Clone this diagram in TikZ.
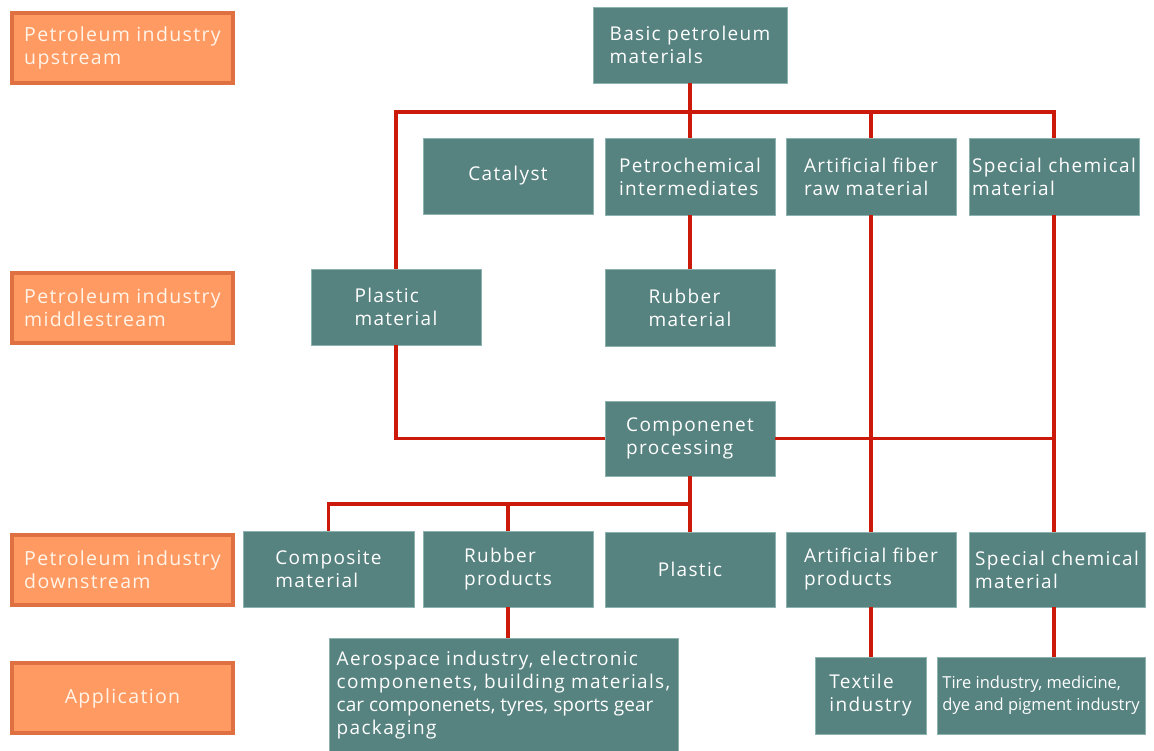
\documentclass[tikz,border=0pt]{standalone}
\usepackage{fontspec}
\setmainfont[LetterSpace=7]{Open Sans}
\newfontfamily\plainfont{Open Sans}
\usetikzlibrary{positioning}
\definecolor{stagefill}{HTML}{FF9A63}
\definecolor{stageedge}{HTML}{DF7042}
\definecolor{stagetext}{HTML}{FFF4E8}
\definecolor{itemfill}{HTML}{568280}
\definecolor{itemedge}{HTML}{8DB3B0}
\definecolor{linkred}{HTML}{CC1A0A}
\tikzset{
  stage/.style={draw=stageedge,line width=4pt,fill=stagefill,text=stagetext,minimum width=221pt,minimum height=70pt,align=left,inner sep=0pt,font=\fontsize{19.5}{23}\selectfont},
  item/.style={draw=itemedge,line width=.8pt,fill=itemfill,text=white,minimum width=170pt,minimum height=76pt,align=left,inner sep=0pt,font=\fontsize{19}{23}\selectfont},
  small/.style={item,font=\plainfont\fontsize{16.5}{22}\selectfont},
  link/.style={draw=linkred,line width=3.2pt},
}
\begin{document}
\begin{tikzpicture}[x=1pt,y=-1pt]
  \useasboundingbox (0,0) rectangle (1154,751);
  % stages of the industry
  \node[stage] (up) at (122.5,48) {Petroleum industry\\upstream};
  \node[stage] (mid) at (122.5,308) {Petroleum industry\\middlestream};
  \node[stage] (down) at (122.5,570) {Petroleum industry\\downstream};
  \node[stage] (app) at (122.5,698) {Application};
  % upstream and middlestream
  \node[item,minimum width=194pt] (basic) at (690,45) {Basic petroleum\\materials};
  \node[item] (catalyst) at (508,176) {Catalyst};
  \node[item,minimum height=77pt] (petro) at (690,176.5) {Petrochemical\\intermediates};
  \node[item,minimum height=77pt] (artR) at (871,176.5) {Artificial fiber\\raw material};
  \node[item,minimum height=77pt] (specialT) at (1054,176.5) {Special chemical\\material};
  \node[item] (plasticM) at (396,307) {Plastic\\material};
  \node[item,minimum height=77pt] (rubberM) at (690,307.5) {Rubber\\material};
  \node[item,minimum height=75pt] (comp) at (690,438.5) {Componenet\\processing};
  % downstream
  \node[item,minimum width=171pt] (composite) at (328.5,569) {Composite\\material};
  \node[item] (rubberP) at (508,569) {Rubber\\products};
  \node[item,minimum height=75pt] (plastic) at (690,569.5) {Plastic};
  \node[item,minimum height=75pt] (artP) at (871,569.5) {Artificial fiber\\products};
  \node[item,minimum width=176pt,minimum height=75pt] (specialD) at (1057,569.5) {Special chemical\\material};
  % application
  \node[item,minimum width=349pt,minimum height=114pt] (aero) at (503.5,695) {Aerospace industry, electronic\\componenets, building materials,\\{\plainfont car componenets, tyres, sports gear}\\packaging};
  \node[item,minimum width=111pt,minimum height=77pt] (textile) at (870.5,695.5) {Textile\\industry};
  \node[small,minimum width=208pt,minimum height=77pt] (tire) at (1041,695.5) {Tire industry, medicine,\\dye and pigment industry};
  % connectors
  \coordinate (bus) at (0,112);
  \coordinate (bus2) at (0,504);
  \draw[link] (basic.south) -- (basic.south |- bus);
  \draw[link] (plasticM.north) |- (specialT.north |- bus) -- (specialT.north);
  \draw[link] (petro.north) -- (petro.north |- bus);
  \draw[link] (artR.north) -- (artR.north |- bus);
  \draw[link] (petro.south) -- (rubberM.north);
  \draw[link] (plasticM.south) |- (comp.west);
  \draw[link] (comp.east) -- (comp.east -| specialT.south);
  \draw[link] (artR.south) -- (artP.north);
  \draw[link] (specialT.south) -- (specialT.south |- specialD.north);
  \draw[link] (comp.south) -- (plastic.north);
  \draw[link] (composite.north) |- (comp.south |- bus2);
  \draw[link] (rubberP.north) -- (rubberP.north |- bus2);
  \draw[link] (rubberP.south) -- (rubberP.south |- aero.north);
  \draw[link] (artP.south) -- (artP.south |- textile.north);
  \draw[link] (specialT.south |- specialD.south) -- (specialT.south |- tire.north);
\end{tikzpicture}
\end{document}
